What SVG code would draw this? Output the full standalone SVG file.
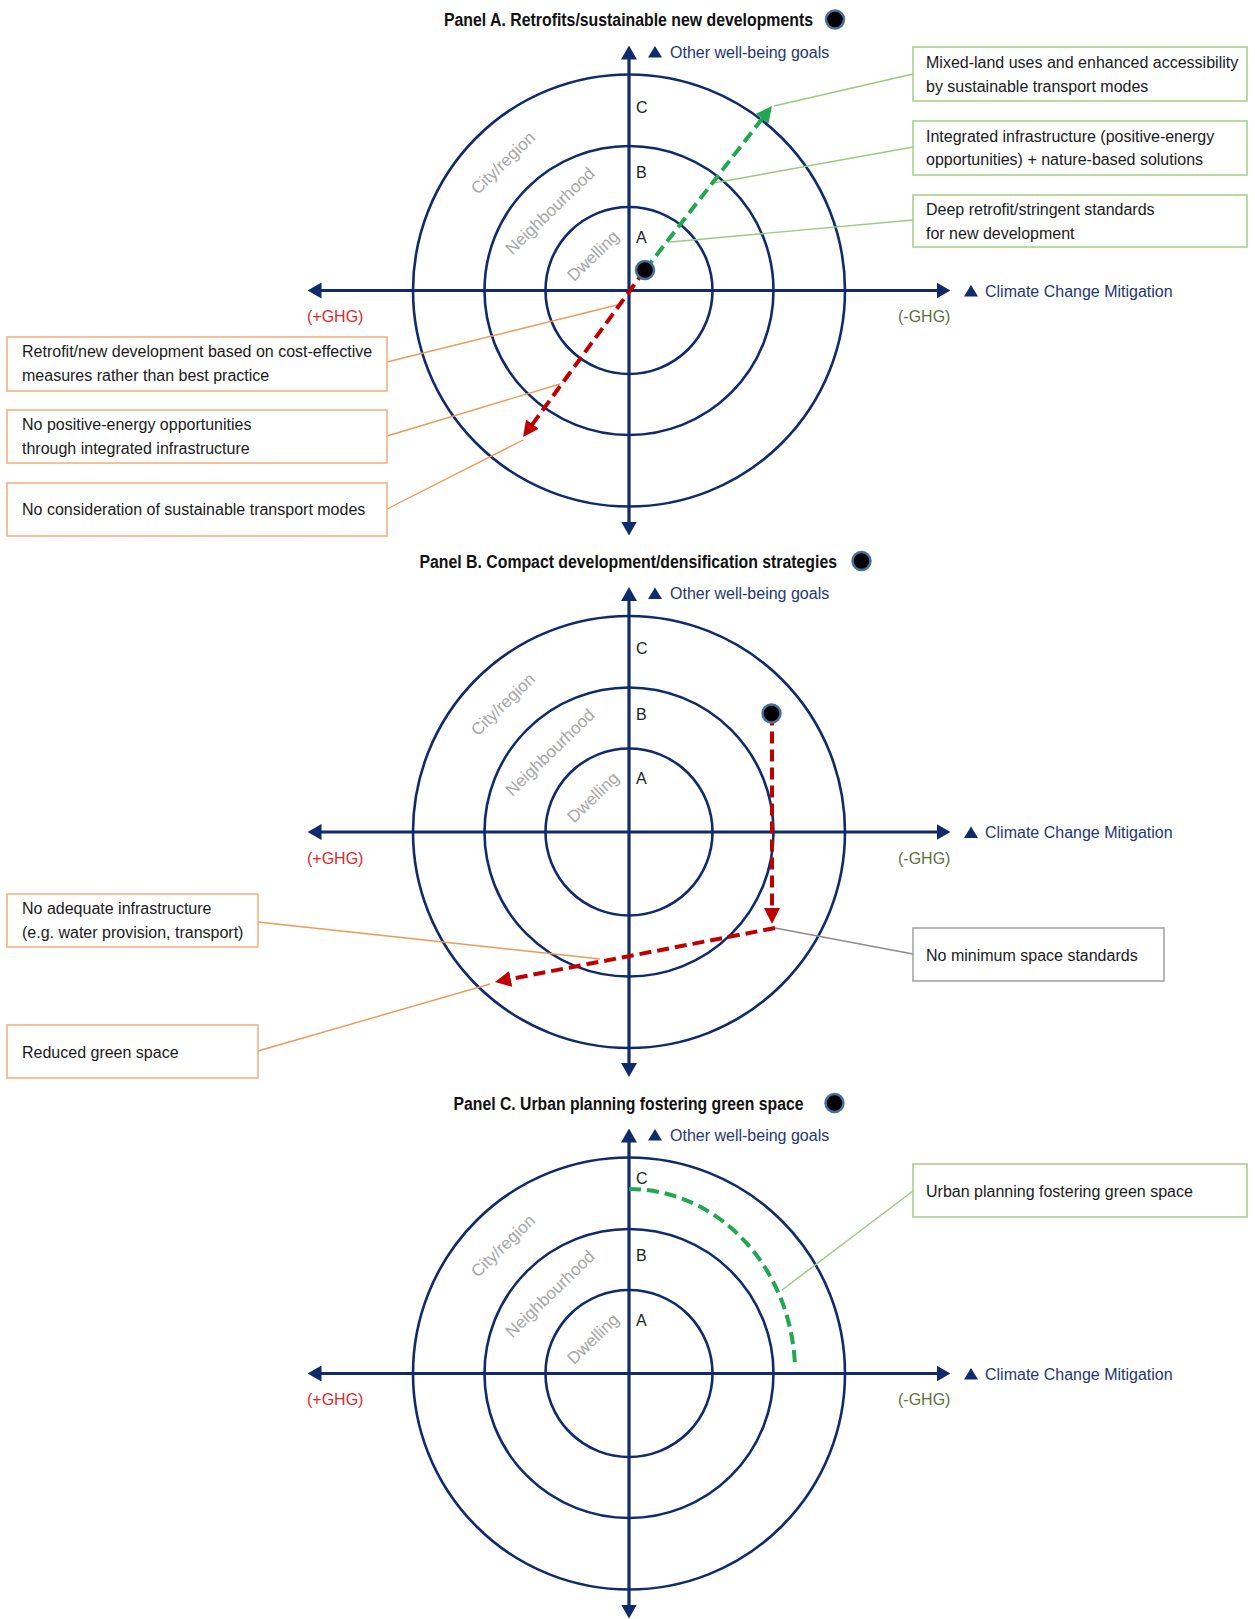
<svg xmlns="http://www.w3.org/2000/svg" width="1255" height="1619" viewBox="0 0 1255 1619">
<style>
text{font-family:"Liberation Sans",Arial,sans-serif;font-size:16px;fill:#1a1a1a}
.title{font-family:"Liberation Sans Narrow","Liberation Sans",Arial,sans-serif;font-weight:bold;font-size:18px;fill:#111}
.ring{fill:none;stroke:#0f2b6b;stroke-width:2.6}
.axis{stroke:#0f2b6b;stroke-width:3.2;marker-start:url(#ah);marker-end:url(#ah)}
.goal{fill:#1f3871}
.tri{fill:#0f2b6b}
.lvl{fill:#222}
.scale{fill:#a6a6a6;font-size:17px}
.pos{fill:#e0262c}
.neg{fill:#5d6f3c}
.dot{fill:#000;stroke:#47709e;stroke-width:2.5}
.gbox{fill:#fff;stroke:#a9d18e;stroke-width:1.6}
.obox{fill:#fff;stroke:#f4b183;stroke-width:1.6}
.kbox{fill:#fff;stroke:#a6a6a6;stroke-width:1.6}
.gl{stroke:#9cc97c;stroke-width:1.4;fill:none}
.ol{stroke:#ec9a57;stroke-width:1.4;fill:none}
.kl{stroke:#8c8c8c;stroke-width:1.4;fill:none}
.gd{stroke:#22a650;stroke-width:4;stroke-dasharray:12 6;fill:none}
.rd{stroke:#c00000;stroke-width:4;stroke-dasharray:12 6;fill:none}
</style>
<defs>
<marker id="ah" viewBox="0 0 14 16" refX="10" refY="8" markerWidth="14" markerHeight="16" markerUnits="userSpaceOnUse" orient="auto-start-reverse"><path d="M0,0 L14,8 L0,16 z" fill="#0f2b6b"/></marker>
<marker id="ar" viewBox="0 0 16 16" refX="11" refY="8" markerWidth="16" markerHeight="16" markerUnits="userSpaceOnUse" orient="auto"><path d="M0,0 L16,8 L0,16 z" fill="#c00000"/></marker>
<marker id="ag" viewBox="0 0 16 16" refX="11" refY="8" markerWidth="16" markerHeight="16" markerUnits="userSpaceOnUse" orient="auto"><path d="M0,0 L16,8 L0,16 z" fill="#22a650"/></marker>
</defs>
<rect width="1255" height="1619" fill="#fff"/>

<!-- Panel A frame -->
<g id="panelA">
<text class="title" x="444" y="26" textLength="369" lengthAdjust="spacingAndGlyphs">Panel A. Retrofits/sustainable new developments</text>
<circle class="dot" cx="835" cy="19.5" r="9"/>
<circle class="ring" cx="629" cy="290.5" r="83.5"/>
<circle class="ring" cx="629" cy="290.5" r="144.5"/>
<circle class="ring" cx="629" cy="290.5" r="216"/>
<line class="axis" x1="629" y1="49.5" x2="629" y2="531.5"/>
<line class="axis" x1="311.5" y1="290.5" x2="946.5" y2="290.5"/>
<polygon class="tri" points="648,57.5 662,57.5 655,46"/>
<text class="goal" x="670" y="57.5">Other well-being goals</text>
<polygon class="tri" points="964,296.5 978,296.5 971,285"/>
<text class="goal" x="985" y="296.5">Climate Change Mitigation</text>
<text class="lvl" x="636" y="112.5">C</text>
<text class="lvl" x="636" y="178">B</text>
<text class="lvl" x="636" y="242.5">A</text>
<text class="pos" x="307" y="322">(+GHG)</text>
<text class="neg" x="898" y="322">(-GHG)</text>
<text class="scale" text-anchor="middle" transform="translate(507 167) rotate(-44)">City/region</text>
<text class="scale" text-anchor="middle" transform="translate(554 215) rotate(-44)">Neighbourhood</text>
<text class="scale" text-anchor="middle" transform="translate(597 260) rotate(-44)">Dwelling</text>
</g>

<!-- Panel B frame -->
<g id="panelB">
<text class="title" x="419.5" y="567.5" textLength="417.5" lengthAdjust="spacingAndGlyphs">Panel B. Compact development/densification strategies</text>
<circle class="dot" cx="861.5" cy="561" r="9"/>
<circle class="ring" cx="629" cy="832" r="83.5"/>
<circle class="ring" cx="629" cy="832" r="144.5"/>
<circle class="ring" cx="629" cy="832" r="216"/>
<line class="axis" x1="629" y1="591" x2="629" y2="1073"/>
<line class="axis" x1="311.5" y1="832" x2="946.5" y2="832"/>
<polygon class="tri" points="648,599 662,599 655,587.5"/>
<text class="goal" x="670" y="599">Other well-being goals</text>
<polygon class="tri" points="964,838 978,838 971,826.5"/>
<text class="goal" x="985" y="838">Climate Change Mitigation</text>
<text class="lvl" x="636" y="654">C</text>
<text class="lvl" x="636" y="719.5">B</text>
<text class="lvl" x="636" y="784">A</text>
<text class="pos" x="307" y="863.5">(+GHG)</text>
<text class="neg" x="898" y="863.5">(-GHG)</text>
<text class="scale" text-anchor="middle" transform="translate(507 708.5) rotate(-44)">City/region</text>
<text class="scale" text-anchor="middle" transform="translate(554 756.5) rotate(-44)">Neighbourhood</text>
<text class="scale" text-anchor="middle" transform="translate(597 801.5) rotate(-44)">Dwelling</text>
</g>

<!-- Panel C frame -->
<g id="panelC">
<text class="title" x="453.5" y="1109.5" textLength="350" lengthAdjust="spacingAndGlyphs">Panel C. Urban planning fostering green space</text>
<circle class="dot" cx="834.5" cy="1103" r="9"/>
<circle class="ring" cx="629" cy="1373.5" r="83.5"/>
<circle class="ring" cx="629" cy="1373.5" r="144.5"/>
<circle class="ring" cx="629" cy="1373.5" r="216"/>
<line class="axis" x1="629" y1="1132.5" x2="629" y2="1614.5"/>
<line class="axis" x1="311.5" y1="1373.5" x2="946.5" y2="1373.5"/>
<polygon class="tri" points="648,1140.5 662,1140.5 655,1129"/>
<text class="goal" x="670" y="1140.5">Other well-being goals</text>
<polygon class="tri" points="964,1379.5 978,1379.5 971,1368"/>
<text class="goal" x="985" y="1379.5">Climate Change Mitigation</text>
<text class="lvl" x="636" y="1184">C</text>
<text class="lvl" x="636" y="1261">B</text>
<text class="lvl" x="636" y="1325.5">A</text>
<text class="pos" x="307" y="1405">(+GHG)</text>
<text class="neg" x="898" y="1405">(-GHG)</text>
<text class="scale" text-anchor="middle" transform="translate(507 1250) rotate(-44)">City/region</text>
<text class="scale" text-anchor="middle" transform="translate(554 1298) rotate(-44)">Neighbourhood</text>
<text class="scale" text-anchor="middle" transform="translate(597 1343) rotate(-44)">Dwelling</text>
</g>

<!-- Connectors -->
<g id="connectors">
<line class="gl" x1="913" y1="74" x2="774" y2="106"/>
<line class="gl" x1="913" y1="147" x2="714" y2="183"/>
<line class="gl" x1="913" y1="220" x2="670" y2="242"/>
<line class="ol" x1="387" y1="362" x2="617" y2="305"/>
<line class="ol" x1="387" y1="436" x2="560" y2="384"/>
<line class="ol" x1="387" y1="509" x2="523" y2="440"/>
<line class="gd" x1="645" y1="270" x2="768.9" y2="110" marker-end="url(#ag)"/>
<line class="rd" x1="645" y1="270" x2="526" y2="433" marker-end="url(#ar)"/>

<line class="ol" x1="258" y1="922" x2="600" y2="959"/>
<line class="ol" x1="258" y1="1051" x2="490" y2="984"/>
<line class="kl" x1="775" y1="928" x2="913" y2="954"/>
<line class="rd" x1="772" y1="713.5" x2="772" y2="919" marker-end="url(#ar)"/>
<line class="rd" x1="775" y1="928" x2="499.9" y2="981" marker-end="url(#ar)"/>

<line class="gl" x1="782" y1="1290" x2="913" y2="1191"/>
<path class="gd" d="M629,1189 A166,184.5 0 0 1 795,1366"/>
</g>

<!-- Dots on trajectories -->
<g id="dotA"><circle class="dot" cx="645" cy="270" r="9"/></g>
<g id="dotB"><circle class="dot" cx="771.5" cy="713.5" r="9"/></g>

<!-- Nodes: boxes -->
<g id="boxA1"><rect class="gbox" x="913" y="47" width="334" height="54"/>
<text x="926" y="68">Mixed-land uses and enhanced accessibility</text>
<text x="926" y="91.5">by sustainable transport modes</text></g>
<g id="boxA2"><rect class="gbox" x="913" y="121" width="334" height="54"/>
<text x="926" y="141.5">Integrated infrastructure (positive-energy</text>
<text x="926" y="165">opportunities) + nature-based solutions</text></g>
<g id="boxA3"><rect class="gbox" x="913" y="195" width="334" height="52"/>
<text x="926" y="214.5">Deep retrofit/stringent standards</text>
<text x="926" y="238.5">for new development</text></g>
<g id="boxA4"><rect class="obox" x="7" y="337" width="380" height="54"/>
<text x="22" y="357">Retrofit/new development based on cost-effective</text>
<text x="22" y="381">measures rather than best practice</text></g>
<g id="boxA5"><rect class="obox" x="7" y="410" width="380" height="53"/>
<text x="22" y="430">No positive-energy opportunities</text>
<text x="22" y="454">through integrated infrastructure</text></g>
<g id="boxA6"><rect class="obox" x="7" y="483" width="380" height="53"/>
<text x="22" y="515">No consideration of sustainable transport modes</text></g>

<g id="boxB1"><rect class="obox" x="7" y="894" width="251" height="53"/>
<text x="22" y="914">No adequate infrastructure</text>
<text x="22" y="938">(e.g. water provision, transport)</text></g>
<g id="boxB2"><rect class="obox" x="7" y="1025" width="251" height="53"/>
<text x="22" y="1057.5">Reduced green space</text></g>
<g id="boxB3"><rect class="kbox" x="913" y="928" width="251" height="53"/>
<text x="926" y="960.5">No minimum space standards</text></g>

<g id="boxC1"><rect class="gbox" x="913" y="1164" width="334" height="53"/>
<text x="926" y="1196.5">Urban planning fostering green space</text></g>
</svg>
